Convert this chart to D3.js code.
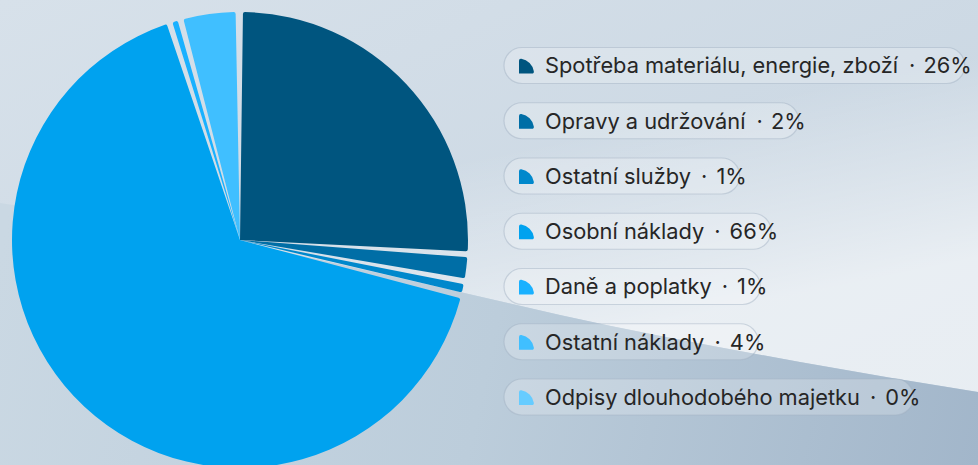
<!DOCTYPE html>
<html>
<head>
<meta charset="utf-8">
<script src="https://cdn.jsdelivr.net/npm/d3@7"></script>
<style>
  html, body { margin: 0; padding: 0; overflow: hidden; }
  svg { display: block; font-family: Inter, "Noto Sans", sans-serif; }
</style>
</head>
<body>
<svg id="chart"></svg>
<script>
const width = 978
const height = 465

// data
const categories = [
  "Spotřeba materiálu, energie, zboží",
  "Opravy a udržování",
  "Ostatní služby",
  "Osobní náklady",
  "Daně a poplatky",
  "Ostatní náklady",
  "Odpisy dlouhodobého majetku"
]
const shares = [26.0, 1.9, 1.0, 66.1, 0.8, 4.1, 0.1]
const colors = ["#00557f", "#006ea6", "#0088cc", "#00a2ef", "#19b1ff", "#40bfff", "#66ccff"]

const svg = d3.select("#chart")
  .attr("width", width)
  .attr("height", height)

const defs = svg.append("defs")

// background gradients
const bgGrad = defs.append("linearGradient").attr("id", "bg")
  .attr("x1", "0").attr("y1", "0").attr("x2", "1").attr("y2", "1")
bgGrad.append("stop").attr("offset", "0").attr("stop-color", "#d7e1ea")
bgGrad.append("stop").attr("offset", "1").attr("stop-color", "#c4d2df")

const lowGrad = defs.append("linearGradient").attr("id", "low")
  .attr("gradientUnits", "userSpaceOnUse")
  .attr("x1", 0).attr("y1", 250).attr("x2", 978).attr("y2", 465)
lowGrad.append("stop").attr("offset", "0").attr("stop-color", "#cad8e3")
lowGrad.append("stop").attr("offset", "0.5").attr("stop-color", "#bccddb")
lowGrad.append("stop").attr("offset", "1").attr("stop-color", "#a2b6ca")

const glowGrad = defs.append("linearGradient").attr("id", "glow")
  .attr("gradientUnits", "userSpaceOnUse")
  .attr("x1", 600).attr("y1", 335).attr("x2", 560).attr("y2", 140)
glowGrad.append("stop").attr("offset", "0").attr("stop-color", "#ffffff").attr("stop-opacity", 0.6)
glowGrad.append("stop").attr("offset", "1").attr("stop-color", "#ffffff").attr("stop-opacity", 0)

svg.append("rect").attr("width", width).attr("height", height).attr("fill", "url(#bg)")

const edge = [[0, 203], [200, 235], [460, 292], [560, 315], [800, 362], [978, 392]]
const edgeLine = d3.line().curve(d3.curveMonotoneX)

svg.append("path")
  .attr("d", edgeLine(edge) + "L978,0L0,0Z")
  .attr("fill", "url(#glow)")
svg.append("path")
  .attr("d", edgeLine(edge) + "L978,465L0,465Z")
  .attr("fill", "url(#low)")

// pie
const radius = 228
const cx = 240, cy = 240

const pie = d3.pie().sort(null).value(d => d)
const arcs = pie(shares)

const arc = d3.arc()
  .innerRadius(0)
  .outerRadius(radius)
  .padAngle(0.026)
  .padRadius(radius)
  .cornerRadius(2)

svg.append("g")
  .attr("transform", `translate(${cx},${cy})`)
  .selectAll("path")
  .data(arcs)
  .join("path")
  .attr("d", arc)
  .attr("fill", (d, i) => colors[i])

// legend
const legendX = 504
const rowY0 = 65.5
const rowStep = 55.25
const pillH = 36

const iconArc = d3.arc()
  .innerRadius(0)
  .outerRadius(15)
  .startAngle(0)
  .endAngle(Math.PI / 2)
  .cornerRadius(2)

const rows = svg.append("g").selectAll("g")
  .data(categories)
  .join("g")
  .attr("transform", (d, i) => `translate(${legendX},${rowY0 + i * rowStep})`)

const pills = rows.append("rect")
  .attr("y", -pillH / 2)
  .attr("height", pillH)
  .attr("rx", pillH / 2)
  .attr("fill", "rgba(255,255,255,0.22)")
  .attr("stroke", "rgba(160,176,192,0.45)")
  .attr("stroke-width", 1.2)

rows.append("path")
  .attr("transform", "translate(15,8)")
  .attr("d", iconArc)
  .attr("fill", (d, i) => colors[i])

const labels = rows.append("text")
  .attr("x", 41)
  .attr("y", 0)
  .attr("dy", "0.36em")
  .attr("font-size", 21.8)
  .attr("fill", "#262626")

labels.append("tspan").text(d => d)
labels.append("tspan").attr("dx", 11).text("·")
labels.append("tspan").attr("dx", 9).text((d, i) => `${Math.round(shares[i])}%`)

labels.each(function (d, i) {
  const w = this.getComputedTextLength()
  d3.select(pills.nodes()[i]).attr("width", 41 + w + 13)
})
</script>
</body>
</html>
